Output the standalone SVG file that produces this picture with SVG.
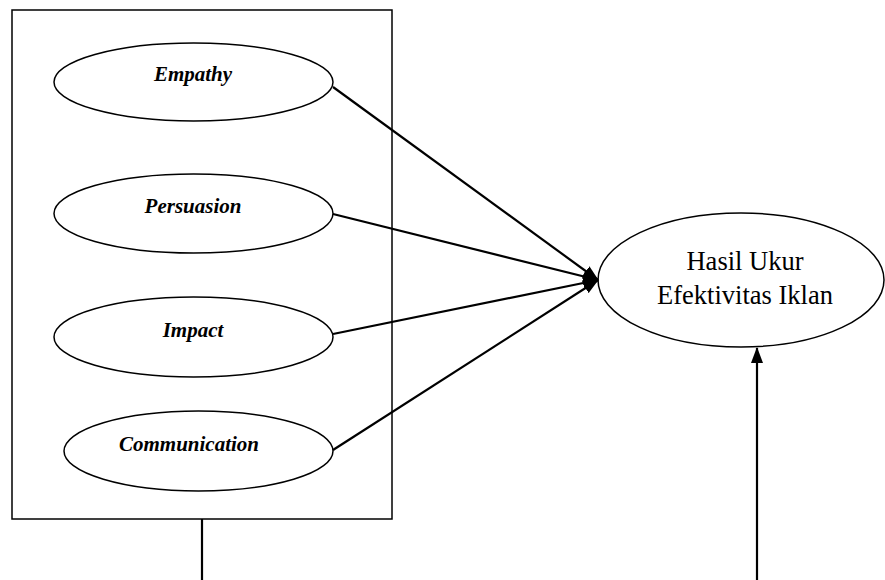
<svg xmlns="http://www.w3.org/2000/svg" width="885" height="580" viewBox="0 0 885 580">
<style>
.shape{fill:#fff;stroke:#000;stroke-width:1.5}
.lbl{font-family:"Liberation Serif","Times New Roman",serif;font-weight:bold;font-style:italic;font-size:21px;text-anchor:middle;fill:#000}
.big{font-family:"Liberation Serif","Times New Roman",serif;font-size:26.5px;text-anchor:middle;fill:#000}
.conn{stroke:#000;stroke-width:2.2;fill:none}
</style>
<defs>
<marker id="ah" markerWidth="16" markerHeight="12" refX="15" refY="6" orient="auto" markerUnits="userSpaceOnUse">
<path d="M0,0 L16,6 L0,12 Z" fill="#000"/>
</marker>
</defs>
<rect id="frame" x="12" y="10" width="380" height="509" class="shape"/>
<g id="empathy"><ellipse cx="193.5" cy="82" rx="139.5" ry="39" class="shape"/><text x="193" y="81" class="lbl">Empathy</text></g>
<g id="persuasion"><ellipse cx="193.5" cy="213.5" rx="139.5" ry="39.5" class="shape"/><text x="193" y="213" class="lbl">Persuasion</text></g>
<g id="impact"><ellipse cx="193.5" cy="337" rx="139.5" ry="40" class="shape"/><text x="193" y="337" class="lbl">Impact</text></g>
<g id="communication"><ellipse cx="198.5" cy="451" rx="134.5" ry="40" class="shape"/><text x="189" y="451" class="lbl">Communication</text></g>
<g id="result"><ellipse cx="741" cy="280" rx="143" ry="67" class="shape"/><text x="745" y="270" class="big">Hasil Ukur</text><text x="745" y="304" class="big">Efektivitas Iklan</text></g>
<g id="connectors">
<line x1="333" y1="87" x2="598" y2="280" class="conn" marker-end="url(#ah)"/>
<line x1="333" y1="214" x2="598" y2="280" class="conn" marker-end="url(#ah)"/>
<line x1="333" y1="334" x2="598" y2="280" class="conn" marker-end="url(#ah)"/>
<line x1="333" y1="450" x2="598" y2="280" class="conn" marker-end="url(#ah)"/>
<line x1="202" y1="519" x2="202" y2="580" class="conn"/>
<line x1="757" y1="580" x2="757" y2="348" class="conn" marker-end="url(#ah)"/>
</g>
</svg>
